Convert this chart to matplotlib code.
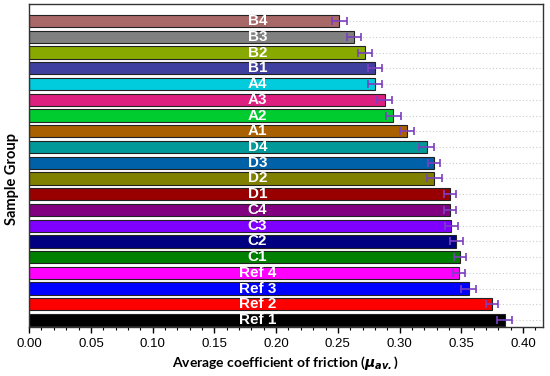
import matplotlib
matplotlib.use("Agg")
import matplotlib.pyplot as plt
from matplotlib.ticker import MultipleLocator

# sample groups, bottom to top
groups = ['Ref 1', 'Ref 2', 'Ref 3', 'Ref 4', 'C1', 'C2', 'C3', 'C4',
          'D1', 'D2', 'D3', 'D4', 'A1', 'A2', 'A3', 'A4', 'B1', 'B2', 'B3', 'B4']
mu_av = [0.385, 0.375, 0.356, 0.348, 0.349, 0.346, 0.342, 0.341,
         0.341, 0.328, 0.328, 0.322, 0.306, 0.295, 0.288, 0.280, 0.280, 0.272, 0.263, 0.251]
mu_err = [0.006, 0.005, 0.006, 0.005, 0.005, 0.005, 0.005, 0.005,
          0.005, 0.006, 0.005, 0.006, 0.006, 0.006, 0.006, 0.006, 0.006, 0.006, 0.006, 0.006]
colors = ['#000000', '#ff0000', '#0000ff', '#ff00ff', '#008000', '#000080', '#8000ff', '#800080',
          '#990000', '#808000', '#0060a8', '#009999', '#a86000', '#00cc30', '#dd2080', '#00ccdd',
          '#3f3f9f', '#88aa00', '#808080', '#a86868']

fig = plt.figure(figsize=(5.5, 3.76), dpi=100)
ax = fig.add_axes([0.053, 0.13, 0.934, 0.859])

ypos = list(range(len(groups)))

# dotted guide lines behind the bars
for y in ypos:
    ax.axhline(y, color='#cccccc', linestyle=(0, (1, 2)), linewidth=0.8, zorder=0)

ax.barh(ypos, mu_av, height=0.78, color=colors, edgecolor='#222222', linewidth=0.8, zorder=2)
ax.errorbar(mu_av, ypos, xerr=mu_err, fmt='none', ecolor='#7b3fbf',
            elinewidth=1.2, capsize=3, capthick=1.2, zorder=3)

for y, g in zip(ypos, groups):
    ax.text(0.185, y, g, color='white', fontweight='bold', fontsize=11,
            family='Liberation Sans', ha='center', va='center', zorder=4)

ax.set_xlim(0, 0.416)
ax.set_ylim(-0.45, 20.08)
ax.set_yticks([])
ax.xaxis.set_major_locator(MultipleLocator(0.05))
ax.xaxis.set_minor_locator(MultipleLocator(0.01))
ax.tick_params(axis='x', which='major', length=4, width=1, labelsize=9.5, direction='out')
ax.tick_params(axis='x', which='minor', length=2.5, width=0.8, direction='out')
for lab in ax.get_xticklabels():
    lab.set_family('Liberation Sans')
ax.xaxis.set_major_formatter(matplotlib.ticker.FormatStrFormatter('%.2f'))

for s in ax.spines.values():
    s.set_linewidth(1.0)
    s.set_color('#333333')

ax.set_xlabel(r'Average coefficient of friction ($\mathbfit{\mu_{av.}}$)', fontweight='bold',
              fontsize=10, family='Lato', labelpad=3)
ax.set_ylabel('Sample Group', fontweight='bold', fontsize=10.5, family='Lato')
ax.yaxis.set_label_coords(-0.02, 0.46)

fig.savefig('out.png', dpi=100)
